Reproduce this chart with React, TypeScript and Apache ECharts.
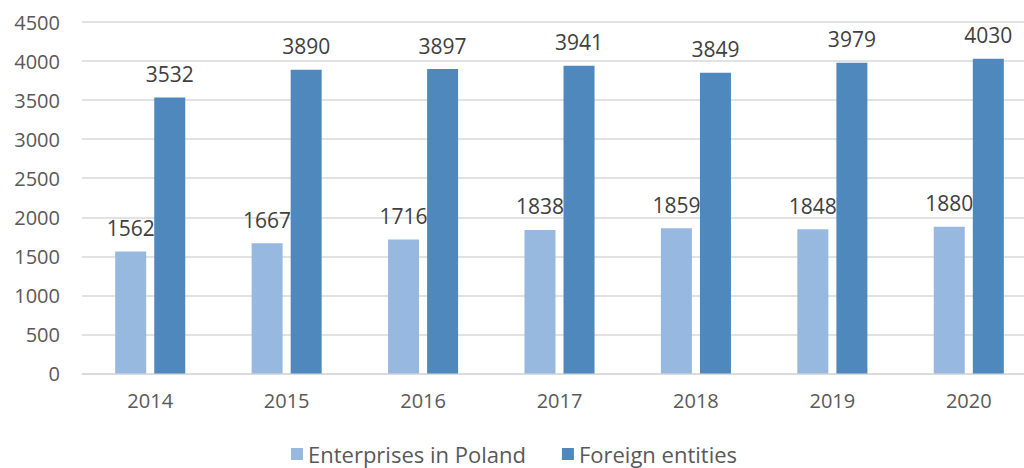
import React, { useEffect, useRef } from "react";
import * as echarts from "echarts";

const years = ["2014", "2015", "2016", "2017", "2018", "2019", "2020"];
const enterprisesInPoland = [1562, 1667, 1716, 1838, 1859, 1848, 1880];
const foreignEntities = [3532, 3890, 3897, 3941, 3849, 3979, 4030];
const seriesNames = ["Enterprises in Poland", "Foreign entities"];

const FONT = "Open Sans";
const TEXT = "#595959";

export default function App() {
  const ref = useRef<HTMLDivElement>(null);
  useEffect(() => {
    document.body.style.margin = "0";
    const chart = echarts.init(ref.current!, null, { renderer: "svg" });
    const label = {
      show: true,
      position: "top",
      distance: 13,
      color: "#404040",
      fontFamily: FONT,
      fontSize: 21,
    };
    chart.setOption({
      animation: false,
      textStyle: { fontFamily: FONT },
      grid: { left: 82, top: 22, bottom: 94.5, right: 3, containLabel: false },
      legend: {
        left: 286,
        bottom: -2,
        itemWidth: 12,
        itemHeight: 12,
        itemGap: 36,
        icon: "rect",
        textStyle: { color: TEXT, fontFamily: FONT, fontSize: 22 },
        data: seriesNames,
      },
      xAxis: {
        type: "category",
        data: years,
        axisLine: { lineStyle: { color: "#d9d9d9", width: 1.5 } },
        axisTick: { show: false },
        axisLabel: { color: TEXT, fontFamily: FONT, fontSize: 20, margin: 17 },
      },
      yAxis: {
        type: "value",
        min: 0,
        max: 4500,
        interval: 500,
        axisLine: { show: false },
        axisTick: { show: false },
        axisLabel: {
          color: TEXT,
          fontFamily: FONT,
          fontSize: 20,
          margin: 22,
          formatter: (v: number) => String(v),
        },
        splitLine: { lineStyle: { color: "#d9d9d9", width: 1.5 } },
      },
      series: [
        {
          name: seriesNames[0],
          type: "bar",
          data: enterprisesInPoland,
          barWidth: 31,
          barGap: "26%",
          itemStyle: { color: "#97B9E0" },
          label,
        },
        {
          name: seriesNames[1],
          type: "bar",
          data: foreignEntities,
          barWidth: 31,
          barGap: "26%",
          itemStyle: { color: "#4F88BD" },
          label,
        },
      ],
    });
    return () => chart.dispose();
  }, []);
  return (
    <div style={{ width: 1024, height: 468, overflow: "hidden" }}>
      <div ref={ref} style={{ width: 1040, height: 468 }} />
    </div>
  );
}
